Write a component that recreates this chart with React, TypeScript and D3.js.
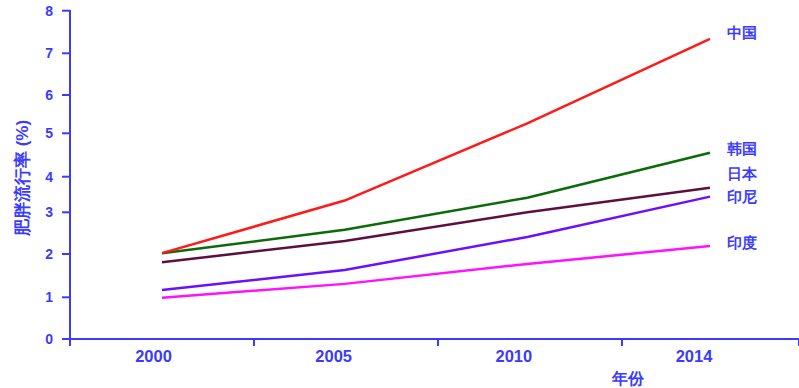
import React from "react";
import * as d3 from "d3";

const years = ["2000", "2005", "2010", "2014"];
const yTicks = [0, 1, 2, 3, 4, 5, 6, 7, 8];
const seriesNames = ["中国", "韩国", "日本", "印尼", "印度"];
const china = [2.02, 3.33, 5.26, 7.34];
const korea = [2.02, 2.58, 3.41, 4.55];
const japan = [1.81, 2.31, 3.0, 3.69];
const indonesia = [1.17, 1.63, 2.41, 3.44];
const india = [0.99, 1.31, 1.77, 2.19];
const seriesColors = ["#ff1a1a", "#0b6b0b", "#5e0f40", "#6a10ff", "#ff10ff"];
const labelY = [33, 149, 174, 197, 243];

const W = 799;
const H = 388;
const AXIS = "#3b3bff";
const FONT = "'Liberation Sans', Arial, sans-serif";

export default function App() {
  const allSeries = [china, korea, japan, indonesia, india];
  // y: tick positions as drawn in the reference (slightly uneven)
  const y = d3
    .scaleLinear()
    .domain(yTicks)
    .range([339, 297.3, 254, 212.3, 176.7, 133.3, 95, 53.3, 10.7]);
  const band = d3.scaleBand<string>().domain(years).range([70, 806]);
  const lineX = d3.scaleLinear().domain([0, 3]).range([162, 710]);
  const labX = d3.scaleLinear().domain([0, 3]).range([153.5, 694]);
  const line = d3
    .line<number>()
    .x((_, i) => lineX(i))
    .y((v) => y(v));
  const boundaries = [...years.map((yr) => band(yr) as number), 799];

  return (
    <svg
      width={W}
      height={H}
      style={{ position: "absolute", left: 0, top: 0, background: "#fff" }}
      fontFamily={FONT}
    >
      {/* axes */}
      <line x1={70} x2={70} y1={10} y2={346} stroke={AXIS} strokeWidth={2} />
      <line x1={62} x2={799} y1={339} y2={339} stroke={AXIS} strokeWidth={2} />
      {yTicks.map((t) => (
        <g key={t}>
          <line x1={62} x2={70} y1={y(t)} y2={y(t)} stroke={AXIS} strokeWidth={2} />
          <text
            x={53}
            y={y(t)}
            dy="0.36em"
            textAnchor="end"
            fontSize={14}
            fontWeight="bold"
            fill={AXIS}
          >
            {t}
          </text>
        </g>
      ))}
      {boundaries.map((bx, i) => (
        <line key={i} x1={bx} x2={bx} y1={339} y2={346} stroke={AXIS} strokeWidth={2} />
      ))}
      {years.map((yr, i) => (
        <text
          key={yr}
          x={labX(i)}
          y={362}
          textAnchor="middle"
          fontSize={16.5}
          fontWeight="bold"
          fill={AXIS}
        >
          {yr}
        </text>
      ))}
      <text x={628} y={384} textAnchor="middle" fontSize={16} fontWeight="bold" fill={AXIS}>
        年份
      </text>
      <text
        transform="translate(28,178) rotate(-90)"
        textAnchor="middle"
        fontSize={17}
        fontWeight="bold"
        fill={AXIS}
      >
        肥胖流行率 (%)
      </text>
      {/* lines */}
      {allSeries.map((s, i) => (
        <path
          key={seriesNames[i]}
          d={line(s) as string}
          fill="none"
          stroke={seriesColors[i]}
          strokeWidth={2.5}
        />
      )).reverse()}
      {seriesNames.map((n, i) => (
        <text
          key={n}
          x={727}
          y={labelY[i]}
          dy="0.36em"
          fontSize={14.5}
          fontWeight="bold"
          fill={AXIS}
        >
          {n}
        </text>
      ))}
    </svg>
  );
}
